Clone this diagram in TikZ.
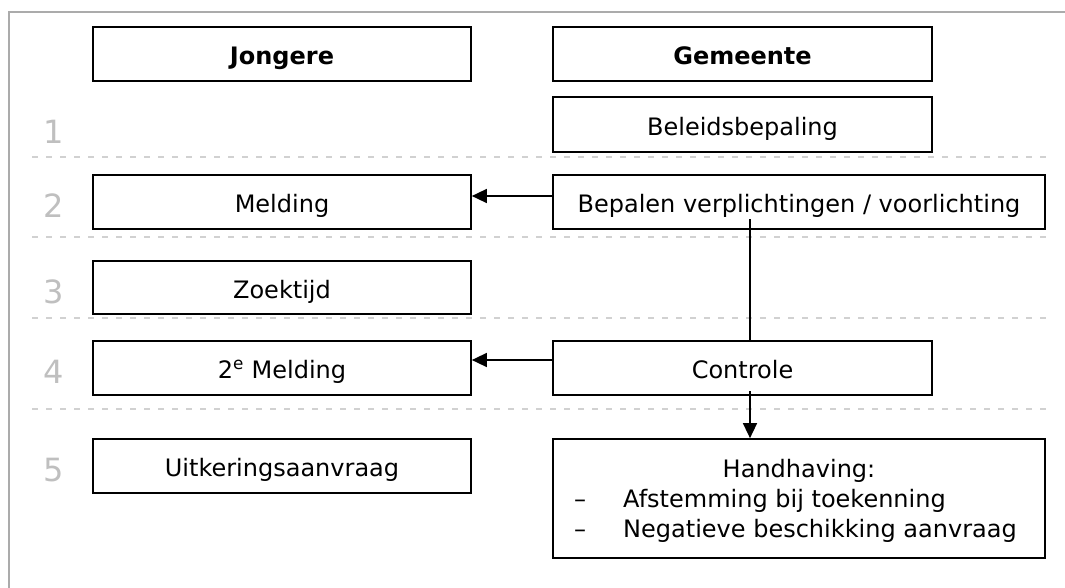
\documentclass[tikz,border=0pt]{standalone}
\usepackage{fontspec}
\setmainfont{DejaVu Sans}
\usetikzlibrary{arrows.meta}
\begin{document}
\begin{tikzpicture}[x=1pt,y=-1pt,
  every node/.style={font=\fontsize{24}{29}\selectfont},
  box/.style={draw=black, line width=1.7pt, fill=white, inner sep=0pt,
    text height=21.4pt, text depth=0pt, minimum height=54pt},
  jbox/.style={box, minimum width=378pt},
  gbox/.style={box, minimum width=379pt},
  wbox/.style={box, minimum width=492pt},
  num/.style={anchor=base, inner sep=0pt, text=black!25, font=\fontsize{32}{38}\selectfont},
  sep/.style={draw=black!18, line width=2pt, dash pattern=on 6pt off 8pt},
  conn/.style={draw=black, line width=1.5pt},
  arr/.style={conn, -{Triangle[length=15pt,width=14pt]}},
  txt/.style={inner sep=0pt, anchor=base west}]
\fill[white] (0,0) rectangle (1065,588);
\useasboundingbox (0,0) rectangle (1065,588);
% frame
\draw[black!33, line width=2.5pt] (9,590) -- (9,12) -- (1067,12);
% separators
\foreach \yy in {157,237,318,409} { \draw[sep] (32,\yy) -- (1050,\yy); }
% header
\node[jbox, font=\bfseries\fontsize{24}{29}\selectfont] (jon) at (282,54) {Jongere};
\node[gbox, font=\bfseries\fontsize{24}{29}\selectfont] (gem) at (742.5,54) {Gemeente};
% row 1
\node[num] (n1) at (54,144) {1};
\node[gbox, minimum height=55pt] (bel) at (742.5,124.5) {Beleidsbepaling};
% row 2
\node[num] (n2) at (54,217.5) {2};
\node[jbox] (mel) at (282,202) {Melding};
\node[wbox] (bep) at (799,202) {Bepalen verplichtingen / voorlichting};
% row 3
\node[num] (n3) at (54,303) {3};
\node[jbox, minimum height=53pt] (zoe) at (282,287.5) {Zoektijd};
% row 4
\node[num] (n4) at (54,383.5) {4};
\node[jbox] (mel2) at (282,368) {2\textsuperscript{e} Melding};
\node[gbox] (ctl) at (742.5,368) {Controle};
% row 5
\node[num] (n5) at (54,481.5) {5};
\node[jbox] (uit) at (282,466) {Uitkeringsaanvraag};
\node[wbox, minimum height=119pt] (hh) at (799,498.5) {};
\node[anchor=base, inner sep=0pt] (hh1) at (799,477) {Handhaving:};
\node[txt] (d1) at (574,507) {–};
\node[txt] (t1) at (623,507) {Afstemming bij toekenning};
\node[txt] (d2) at (574,537) {–};
\node[txt] (t2) at (623,537) {Negatieve beschikking aanvraag};
% connectors
\draw[arr] ([yshift=6pt]bep.west) -- ([yshift=6pt]bep.west -| mel.east);
\draw[arr] ([yshift=8pt]ctl.west) -- ([yshift=8pt]ctl.west -| mel2.east);
\coordinate (v1) at (750,219);
\coordinate (v2) at (750,391);
\draw[conn] (v1) -- (v1 |- ctl.north);
\draw[arr] (v2) -- (v2 |- hh.north);
\end{tikzpicture}
\end{document}
